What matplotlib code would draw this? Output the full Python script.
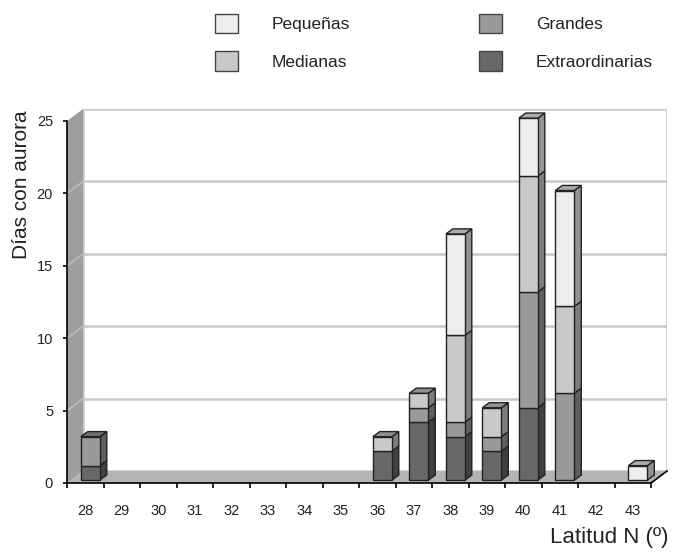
import matplotlib.pyplot as plt
from matplotlib.patches import Polygon, Patch
import numpy as np

plt.rcParams['font.family'] = ['Liberation Sans', 'DejaVu Sans']

# Datos: días con aurora por latitud y por tipo de aurora
latitudes = ['28', '29', '30', '31', '32', '33', '34', '35',
             '36', '37', '38', '39', '40', '41', '42', '43']
extraordinarias = [1, 0, 0, 0, 0, 0, 0, 0, 2, 4, 3, 2, 5, 0, 0, 0]
grandes = [2, 0, 0, 0, 0, 0, 0, 0, 0, 1, 1, 1, 8, 6, 0, 0]
medianas = [0, 0, 0, 0, 0, 0, 0, 0, 1, 1, 6, 2, 8, 6, 0, 0]
pequenas = [0, 0, 0, 0, 0, 0, 0, 0, 0, 0, 7, 0, 4, 8, 0, 1]

series = [extraordinarias, grandes, medianas, pequenas]
nombres = ['Extraordinarias', 'Grandes', 'Medianas', 'Pequeñas']
colores = ['#686868', '#9a9a9a', '#c9c9c9', '#ededed']

yticks = [0, 5, 10, 15, 20, 25]
ymax = 25

# profundidad del efecto 3D (en unidades de datos)
wall_dx, wall_dy = 0.44, 0.83
bar_w = 0.52
bar_ox, bar_oy = 0.14, 0.2
bar_dx, bar_dy = 0.19, 0.35


def oscurecer(c, f):
    r, g, b = [int(c[i:i + 2], 16) / 255 for i in (1, 3, 5)]
    return (r * f, g * f, b * f)


fig = plt.figure(figsize=(6.82, 5.52), dpi=100)
W, H = 682, 552
x0, x1 = 67, 651
y0, y1 = 483, 121
n = len(latitudes)
ux = (x1 - x0) / n
uy = (y0 - y1) / ymax
xlim = (-0.5, n - 0.5 + wall_dx)
ylim = (0, ymax + wall_dy)
ax = fig.add_axes([x0 / W, 1 - y0 / H,
                   (xlim[1] - xlim[0]) * ux / W, (ylim[1] - ylim[0]) * uy / H])
ax.set_xlim(*xlim)
ax.set_ylim(*ylim)
for s in ax.spines.values():
    s.set_visible(False)

L = -0.5
R = n - 0.5

# pared del fondo, pared izquierda y suelo
ax.add_patch(Polygon([(L + wall_dx, wall_dy), (R + wall_dx, wall_dy),
                      (R + wall_dx, ymax + wall_dy), (L + wall_dx, ymax + wall_dy)],
                     closed=True, facecolor='white', edgecolor='#cacaca', lw=1.8, zorder=1))
ax.add_patch(Polygon([(L, 0), (L + wall_dx, wall_dy), (L + wall_dx, ymax + wall_dy), (L, ymax)],
                     closed=True, facecolor='#9e9e9e', edgecolor='none', zorder=2))
ax.add_patch(Polygon([(L, 0), (R, 0), (R + wall_dx, wall_dy), (L + wall_dx, wall_dy)],
                     closed=True, facecolor='#b4b4b4', edgecolor='none', zorder=2))

# líneas de cuadrícula
for v in yticks[1:-1]:
    ax.plot([L + wall_dx, R + wall_dx], [v + wall_dy, v + wall_dy], color='#c8c8c8', lw=1.8, zorder=1.5)
    ax.plot([L, L + wall_dx], [v, v + wall_dy], color='#bcbcbc', lw=1.2, zorder=2.5)

# ejes
ax.plot([L, L], [0, ymax], color='black', lw=1.2, zorder=3, clip_on=False)
ax.plot([L, R, R + wall_dx], [0, 0, wall_dy], color='black', lw=1.2, zorder=3, clip_on=False)

ax.set_yticks(yticks)
ax.set_yticklabels([str(v) for v in yticks])
ax.set_xticks(np.arange(n))
ax.set_xticklabels(latitudes)
ax.set_xticks(np.arange(n + 1) - 0.5, minor=True)
ax.tick_params(axis='y', direction='out', length=3, width=1.2, labelsize=10.5, pad=7,
               labelcolor='#222222')
ax.tick_params(axis='x', which='major', length=0, labelsize=10.5, pad=15, labelcolor='#222222')
ax.tick_params(axis='x', which='minor', direction='out', length=3.5, width=1.2)

# barras apiladas con efecto 3D
for i in range(n):
    base = 0
    total = sum(s[i] for s in series)
    for s, c in zip(series, colores):
        h = s[i]
        if h == 0:
            continue
        xl = i - bar_w / 2 + bar_ox
        xr = xl + bar_w
        yb = base + bar_oy
        yt = yb + h
        ax.add_patch(Polygon([(xr, yb), (xr + bar_dx, yb + bar_dy),
                              (xr + bar_dx, yt + bar_dy), (xr, yt)],
                             closed=True, facecolor=oscurecer(c, 0.62), edgecolor='#222222', lw=1.0, zorder=4))
        ax.add_patch(Polygon([(xl, yb), (xr, yb), (xr, yt), (xl, yt)],
                             closed=True, facecolor=c, edgecolor='#222222', lw=1.0, zorder=5))
        if base + h == total:
            ax.add_patch(Polygon([(xl, yt), (xr, yt), (xr + bar_dx, yt + bar_dy), (xl + bar_dx, yt + bar_dy)],
                                 closed=True, facecolor=oscurecer(c, 0.72), edgecolor='#222222', lw=1.0, zorder=5))
        base += h

fig.text(22 / W, 1 - 185 / H, 'Días con aurora', rotation=90, ha='center', va='center',
         fontsize=15, color='#222222')
fig.text(669 / W, 1 - 537 / H, 'Latitud N (º)', ha='right', va='center', fontsize=16,
         color='#222222')

# leyenda
orden = [3, 2, 1, 0]
handles = [Patch(facecolor=colores[k], edgecolor='#444444', lw=1.0, label=nombres[k]) for k in orden]
fig.legend(handles=handles, ncol=2, loc='upper left', bbox_to_anchor=(206 / W, 1 - 5 / H),
           frameon=False, fontsize=12.5, handlelength=1.35, handleheight=1.35, borderpad=0,
           handletextpad=1.95, columnspacing=7.4, labelspacing=1.05, labelcolor='#222222')

fig.savefig('out.png', dpi=100)
